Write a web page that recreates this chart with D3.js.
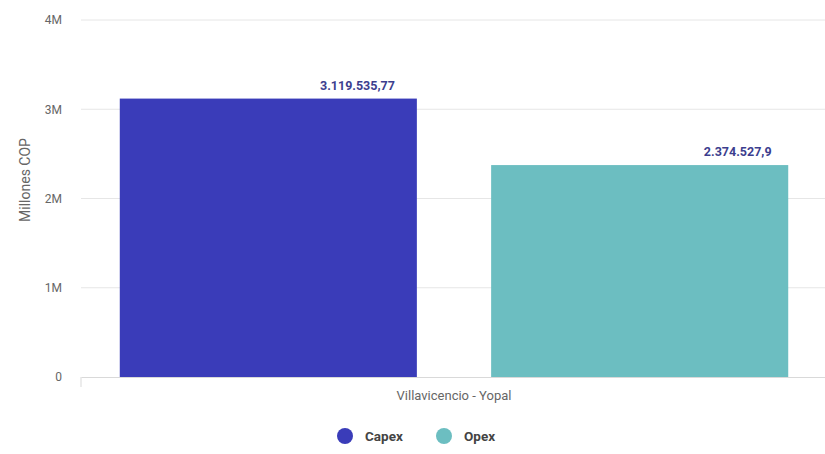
<!DOCTYPE html>
<html>
<head>
<meta charset="utf-8">
<script src="https://cdn.jsdelivr.net/npm/d3@7"></script>
<style>
  html, body { margin: 0; padding: 0; background: #fff; }
  svg { display: block; }
</style>
</head>
<body>
<svg id="chart" width="825" height="454"></svg>
<script>
// Chart data
const categories = ["Villavicencio - Yopal"];
const seriesNames = ["Capex", "Opex"];
const capexValues = [3119535.77];
const opexValues = [2374527.9];
const valueLabels = ["3.119.535,77", "2.374.527,9"];
const yTicks = [0, 1000000, 2000000, 3000000, 4000000];
const yTickLabels = ["0", "1M", "2M", "3M", "4M"];
const seriesColors = ["#3a3cb9", "#6cbec1"];

const svg = d3.select("#chart");
const W = 825, H = 454;
const margin = { left: 81, right: -2, top: 20, bottom: 77 };
const plotBottom = H - margin.bottom;
const font = "'Roboto', 'Liberation Sans', sans-serif";

const y = d3.scaleLinear().domain([0, 4000000]).range([plotBottom, margin.top]);
const x0 = d3.scaleBand().domain(categories)
  .range([margin.left, W - margin.right]).paddingOuter(0.058).paddingInner(0);
const x1 = d3.scaleBand().domain(seriesNames)
  .range([0, x0.bandwidth()]).paddingInner(0.2).paddingOuter(0);
const color = d3.scaleOrdinal().domain(seriesNames).range(seriesColors);

// Horizontal grid lines
svg.append("g").selectAll("line").data(yTicks.slice(1)).join("line")
  .attr("x1", margin.left).attr("x2", W)
  .attr("y1", d => y(d)).attr("y2", d => y(d))
  .attr("stroke", "#e6e6e6").attr("stroke-width", 1);

// Y axis tick labels
const yAxis = d3.axisLeft(y).tickValues(yTicks)
  .tickFormat((d, i) => yTickLabels[i]).tickSize(0).tickPadding(19);
const gy = svg.append("g").attr("transform", `translate(${margin.left},0)`).call(yAxis);
gy.select(".domain").remove();
gy.selectAll("text").attr("fill", "#666").style("font-family", font).style("font-size", "12px");

// Y axis title
svg.append("text")
  .attr("transform", "translate(25,180) rotate(-90)")
  .attr("text-anchor", "middle").attr("dy", "0.35em")
  .attr("fill", "#666").style("font-family", font).style("font-size", "14px")
  .text("Millones COP");

// Bars
const rows = categories.map((c, i) => ({ cat: c, values: [capexValues[i], opexValues[i]] }));
const barData = (d, gi) => d.values.map((v, si) => ({
  name: seriesNames[si], value: v, label: valueLabels[gi * seriesNames.length + si]
}));
const groups = svg.append("g").selectAll("g").data(rows).join("g")
  .attr("transform", d => `translate(${x0(d.cat)},0)`);

groups.selectAll("rect").data(barData).join("rect")
  .attr("x", d => x1(d.name))
  .attr("y", d => y(d.value))
  .attr("width", x1.bandwidth())
  .attr("height", d => plotBottom - y(d.value))
  .attr("fill", d => color(d.name));

// Value labels above bars
groups.selectAll("text.val").data(barData).join("text").attr("class", "val")
  .attr("x", (d, i) => x1(d.name) + x1.bandwidth() * (i === 0 ? 0.8 : 0.83))
  .attr("y", d => y(d.value) - 9)
  .attr("text-anchor", "middle")
  .attr("fill", "#3c3e8e")
  .style("font-family", font).style("font-size", "12.5px").style("font-weight", "bold")
  .text(d => d.label);

// X axis baseline and category label
const xAxis = d3.axisBottom(x0).tickSize(0).tickPadding(14);
const gx = svg.append("g").attr("transform", `translate(0,${plotBottom})`).call(xAxis);
gx.select(".domain").attr("stroke", "#d9d9d9");
gx.selectAll("text").attr("fill", "#666").style("font-family", font).style("font-size", "13px");
svg.append("line")
  .attr("x1", margin.left).attr("x2", margin.left)
  .attr("y1", plotBottom).attr("y2", plotBottom + 10)
  .attr("stroke", "#d9d9d9");

// Legend
const legendItems = [
  { name: seriesNames[0], cx: 345 },
  { name: seriesNames[1], cx: 444 }
];
const lg = svg.append("g").selectAll("g").data(legendItems).join("g")
  .attr("transform", d => `translate(${d.cx},436)`);
lg.append("circle").attr("r", 8).attr("fill", d => color(d.name));
lg.append("text").attr("x", 20).attr("y", 5)
  .attr("fill", "#444").style("font-family", font)
  .style("font-size", "13.5px").style("font-weight", "bold")
  .text(d => d.name);
</script>
</body>
</html>
